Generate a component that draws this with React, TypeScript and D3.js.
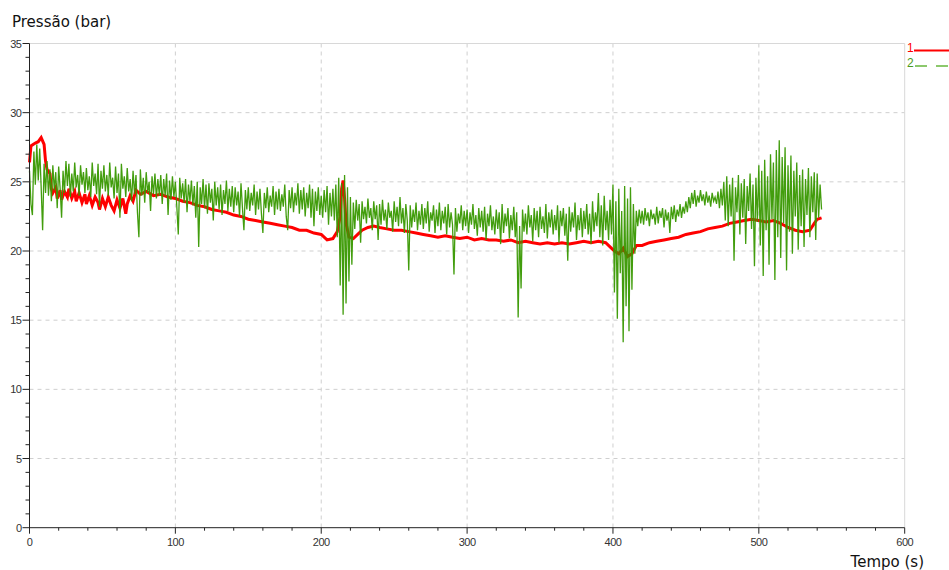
import React from "react";
import * as d3 from "d3";

// ---- Data ----
const xTicks = [0, 100, 200, 300, 400, 500, 600];
const yTicks = [0, 5, 10, 15, 20, 25, 30, 35];
const legendLabels = ["1", "2"];

// Series 1 (red): [time s, pressure bar]
const series1Time = [0, 1, 4, 6, 8, 10, 11, 12, 14, 15, 16, 18, 19, 21, 22, 24, 26, 27, 29, 31, 32, 34, 36, 38, 39, 41, 43, 45, 47, 48, 50, 52, 54, 56, 58, 60, 62, 64, 66, 67, 69, 71, 73, 76, 80, 85, 90, 95, 100, 105, 110, 115, 120, 125, 130, 135, 140, 145, 150, 155, 160, 165, 170, 175, 180, 185, 190, 195, 200, 204, 208, 211, 213, 214, 215, 216, 217, 219, 222, 225, 228, 232, 236, 240, 245, 250, 255, 260, 265, 270, 275, 280, 285, 290, 295, 300, 305, 310, 315, 320, 325, 330, 335, 340, 345, 350, 355, 360, 365, 370, 375, 380, 385, 390, 395, 398, 401, 404, 407, 410, 413, 416, 420, 425, 430, 435, 440, 445, 450, 455, 460, 465, 470, 475, 480, 485, 490, 495, 500, 505, 510, 515, 520, 525, 530, 535, 538, 540, 543];
const series1Value = [26.4, 27.6, 27.8, 27.9, 28.2, 27.7, 26.5, 25.9, 25.6, 24.5, 24.2, 24.6, 23.8, 24.4, 23.7, 24.3, 23.9, 24.5, 23.8, 24.3, 23.6, 24.2, 23.5, 24.1, 23.4, 24.0, 23.3, 23.9, 23.5, 23.0, 23.8, 23.2, 23.9, 23.3, 22.9, 23.7, 23.1, 23.8, 22.7, 23.4, 24.0, 23.6, 24.4, 24.1, 24.3, 24.0, 24.1, 23.9, 23.8, 23.6, 23.5, 23.3, 23.2, 23.0, 22.9, 22.8, 22.6, 22.5, 22.3, 22.2, 22.1, 22.0, 21.9, 21.8, 21.7, 21.5, 21.5, 21.3, 21.2, 20.8, 20.9, 21.4, 22.5, 24.5, 25.1, 23.8, 22.0, 21.0, 20.9, 21.2, 21.5, 21.7, 21.8, 21.7, 21.6, 21.5, 21.5, 21.4, 21.3, 21.2, 21.1, 21.0, 21.1, 21.0, 20.9, 21.0, 20.8, 20.9, 20.8, 20.8, 20.7, 20.8, 20.6, 20.7, 20.6, 20.5, 20.6, 20.5, 20.6, 20.5, 20.6, 20.7, 20.6, 20.7, 20.6, 20.3, 20.0, 19.8, 20.2, 19.6, 19.8, 20.4, 20.4, 20.6, 20.7, 20.8, 20.9, 21.0, 21.2, 21.3, 21.4, 21.6, 21.7, 21.8, 22.0, 22.1, 22.2, 22.3, 22.2, 22.1, 22.2, 22.0, 21.7, 21.5, 21.4, 21.5, 22.0, 22.3, 22.4];

// Series 2 (green): one reading per second from t = 0 s
const series2Value = [
  25.8, 23.4, 22.6, 27.2, 24.8, 27.7, 25.1, 27.4, 24.6, 21.5,
  26.3, 24.2, 26.5, 24.0, 25.9, 23.6, 26.2, 24.4, 25.7, 23.1,
  26.1, 24.5, 22.4, 25.8, 24.2, 26.5, 24.7, 26.3, 23.9, 25.6,
  24.3, 26.4, 24.6, 25.5, 24.0, 26.2, 24.8, 25.7, 24.2, 26.0,
  24.4, 25.4, 23.9, 26.4, 24.7, 25.6, 24.1, 26.3, 23.2, 25.8,
  24.5, 26.2, 24.3, 25.5, 24.0, 26.4, 24.6, 25.3, 23.8, 26.1,
  24.2, 25.6, 22.4, 26.3, 24.5, 25.4, 23.9, 26.0, 24.3, 25.2,
  23.6, 25.8, 24.1, 25.5, 22.8, 21.0, 25.9, 24.0, 25.3, 23.5,
  25.7, 24.2, 25.0, 22.9, 25.4, 24.1, 25.6, 23.8, 25.2, 24.0,
  25.5, 23.4, 25.2, 24.0, 25.6, 22.6, 25.1, 23.7, 25.4, 23.9,
  25.0, 23.2, 21.2, 25.3, 23.8, 24.9, 23.5, 25.2, 22.8, 24.8,
  23.6, 25.1, 23.3, 24.7, 22.4, 25.0, 20.3, 24.6, 23.4, 25.2,
  23.1, 24.8, 22.7, 24.9, 23.5, 24.5, 22.2, 25.0, 23.3, 24.6,
  23.0, 24.8, 22.6, 24.4, 23.4, 25.1, 22.9, 24.5, 23.2, 24.7,
  22.8, 24.6, 23.3, 24.3, 22.5, 24.9, 23.1, 21.5, 24.4, 23.0,
  24.6, 22.9, 24.2, 23.3, 24.8, 22.6, 24.3, 23.0, 24.5, 22.7,
  21.3, 24.2, 23.1, 24.6, 22.8, 24.0, 23.2, 24.7, 22.6, 24.3,
  23.0, 24.5, 22.9, 24.1, 23.2, 24.8, 22.5, 21.5, 24.4, 23.1,
  24.6, 22.8, 24.2, 23.3, 24.9, 22.7, 24.4, 23.0, 24.6, 22.5,
  24.2, 23.1, 24.8, 22.4, 24.5, 21.8, 24.3, 22.9, 24.6, 22.6,
  24.0, 22.4, 24.4, 22.8, 24.7, 21.9, 24.2, 22.5, 24.5, 22.2,
  24.8, 21.0, 25.3, 17.5, 24.9, 15.4, 25.5, 16.2, 24.6, 17.8,
  23.9, 19.0, 23.5, 21.6, 23.7, 22.2, 23.4, 20.6, 23.6, 22.3,
  23.2, 22.0, 23.8, 22.4, 23.1, 21.5, 23.6, 22.3, 23.3, 20.8,
  23.4, 21.9, 23.7, 22.2, 23.0, 21.6, 23.5, 22.4, 22.9, 21.4,
  23.6, 22.1, 23.2, 21.8, 23.9, 22.0, 23.1, 21.3, 23.4, 22.2,
  18.6, 23.3, 21.7, 23.0, 22.1, 23.5, 21.5, 22.9, 21.9, 23.4,
  21.6, 23.1, 22.0, 23.6, 21.4, 22.8, 22.2, 23.3, 21.3, 23.0,
  21.8, 23.5, 21.5, 22.9, 22.0, 23.2, 21.2, 23.4, 21.7, 22.8,
  21.9, 18.3, 23.1, 21.4, 22.7, 22.0, 23.3, 21.5, 22.9, 21.8,
  23.0, 21.3, 22.8, 21.9, 23.4, 21.6, 22.6, 21.1, 23.1, 21.7,
  22.9, 21.4, 23.2, 20.8, 22.7, 21.8, 23.3, 21.5, 22.5, 21.2,
  23.0, 21.6, 22.8, 20.5, 23.4, 21.3, 22.7, 21.8, 23.1, 20.9,
  22.6, 21.5, 23.2, 21.0, 22.8, 15.2, 21.8, 17.3, 23.0, 21.4,
  22.7, 21.2, 23.3, 21.7, 22.6, 20.7, 23.1, 21.5, 22.9, 21.0,
  23.2, 21.6, 22.5, 21.3, 23.4, 20.9, 22.8, 21.7, 23.0, 21.2,
  22.6, 21.5, 23.3, 20.6, 22.9, 21.8, 23.1, 21.1, 22.7, 19.3,
  23.2, 21.4, 22.8, 21.7, 23.5, 20.8, 22.6, 21.5, 23.1, 21.0,
  22.9, 21.6, 23.4, 21.2, 22.7, 20.5, 23.6, 21.4, 22.8, 21.8,
  24.2, 21.0, 23.3, 20.4, 24.0, 21.5, 22.9, 20.8, 23.7, 21.2,
  24.8, 17.0, 23.6, 15.1, 24.5, 18.4, 22.9, 13.4, 24.7, 16.0,
  23.8, 14.2, 24.6, 17.2, 23.4, 19.8, 22.9, 21.8, 23.0, 22.0,
  22.9, 21.9, 23.1, 22.2, 22.8, 21.8, 23.0, 22.3, 22.7, 21.9,
  23.2, 22.0, 22.9, 22.4, 23.1, 21.7, 23.0, 22.2, 22.8, 21.3,
  23.2, 22.3, 23.3, 22.1, 23.0, 22.5, 23.4, 22.4, 23.2, 22.7,
  23.6, 22.8, 23.9, 23.1, 24.2, 23.4, 24.4, 23.2, 24.0, 23.5,
  24.4, 23.6, 24.1, 23.3, 24.3, 23.5, 24.0, 23.2, 24.2, 23.6,
  23.9, 23.4, 24.3, 23.1, 24.5, 23.3, 25.0, 22.2, 25.4, 21.8,
  24.8, 22.5, 25.3, 19.3, 24.6, 22.8, 25.5, 21.2, 24.9, 22.4,
  25.2, 20.5, 24.7, 22.9, 25.6, 21.6, 24.8, 18.9, 25.3, 22.1,
  26.2, 20.4, 25.8, 18.2, 26.6, 21.5, 25.4, 19.0, 27.0, 22.3,
  26.4, 17.9, 27.3, 21.0, 28.0, 19.5, 26.8, 22.0, 27.5, 18.6,
  26.2, 21.4, 26.9, 19.8, 25.8, 22.5, 26.4, 20.1, 25.5, 21.8,
  25.9, 20.3, 25.2, 22.6, 26.0, 21.0, 25.4, 22.8, 25.7, 20.8,
  25.6, 22.4, 24.8, 23.0,
];

const W = 949;
const H = 570;
const X0 = 29.5, X1 = 904.7, Y0 = 527.7, Y1 = 43.5;

export default function App() {
  const x = d3.scaleLinear().domain([0, 600]).range([X0, X1]);
  const y = d3.scaleLinear().domain([0, 35]).range([Y0, Y1]);

  const s1 = series1Time.map((t, i) => [t, series1Value[i]] as [number, number]);
  const s2 = series2Value.map((v, i) => [i, v] as [number, number]);
  const line = d3.line<[number, number]>().x((d) => x(d[0])).y((d) => y(d[1]));

  const minorX = d3.range(0, 601, 20);
  const minorY = d3.range(0, 36, 1);
  const labelFont = "'Liberation Sans', Arial, sans-serif";
  const titleFont = "'DejaVu Sans', Verdana, sans-serif";

  return (
    <svg width={W} height={H} style={{ position: "absolute", left: 0, top: 0, background: "#fff" }}>
      <rect width={W} height={H} fill="#fff" />
      {/* grid */}
      {xTicks.filter((t) => t > 0 && t < 600).map((t) => (
        <line key={"gx" + t} x1={x(t)} x2={x(t)} y1={Y1} y2={Y0} stroke="#cfcfcf" strokeDasharray="4,4" />
      ))}
      {yTicks.filter((t) => t > 0 && t < 35).map((t) => (
        <line key={"gy" + t} x1={X0} x2={X1} y1={y(t)} y2={y(t)} stroke="#cfcfcf" strokeDasharray="4,4" />
      ))}
      <line x1={X0} x2={X1} y1={y(35)} y2={y(35)} stroke="#d8d8d8" />
      <line x1={x(600)} x2={x(600)} y1={Y1} y2={Y0} stroke="#d8d8d8" />

      {/* series */}
      <path d={line(s1) || ""} fill="none" stroke="#ff0000" strokeWidth={3} strokeLinejoin="miter" />
      <path d={line(s2) || ""} fill="none" stroke="#389800" strokeWidth={1.3} opacity={0.95} />

      {/* axes */}
      <line x1={X0} x2={X0} y1={Y1} y2={Y0 + 0.5} stroke="#222" />
      <line x1={X0} x2={X1} y1={Y0} y2={Y0} stroke="#222" />
      {minorY.map((t) => (
        <line key={"ty" + t} x1={X0 - (t % 5 === 0 ? 7 : 4)} x2={X0} y1={y(t)} y2={y(t)} stroke="#222" />
      ))}
      {minorX.map((t) => (
        <line key={"tx" + t} x1={x(t)} x2={x(t)} y1={Y0} y2={Y0 + (t % 100 === 0 ? 6 : 3)} stroke="#222" />
      ))}
      {yTicks.map((t) => (
        <text key={"ly" + t} x={X0 - 8} y={y(t) + 4} textAnchor="end" fontSize={11} fontFamily={labelFont} fill="#333" letterSpacing={-0.5}>
          {t}
        </text>
      ))}
      {xTicks.map((t) => (
        <text key={"lx" + t} x={x(t)} y={Y0 + 18} textAnchor="middle" fontSize={11} fontFamily={labelFont} fill="#333" letterSpacing={-0.5}>
          {t}
        </text>
      ))}

      {/* titles */}
      <text x={12} y={27} fontSize={15} fontFamily={titleFont} fill="#111">Pressão (bar)</text>
      <text x={924} y={567} textAnchor="end" fontSize={15} fontFamily={titleFont} fill="#111">Tempo (s)</text>

      {/* legend */}
      <text x={907} y={51.5} fontSize={12} fontFamily={labelFont} fill="#ff0000">{legendLabels[0]}</text>
      <line x1={914} x2={949} y1={50.5} y2={50.5} stroke="#ff0000" strokeWidth={2} />
      <text x={907} y={66.5} fontSize={12} fontFamily={labelFont} fill="#4a9a20">{legendLabels[1]}</text>
      <line x1={915} x2={949} y1={66} y2={66} stroke="#8cc86c" strokeWidth={2} strokeDasharray="12,9" />
    </svg>
  );
}
